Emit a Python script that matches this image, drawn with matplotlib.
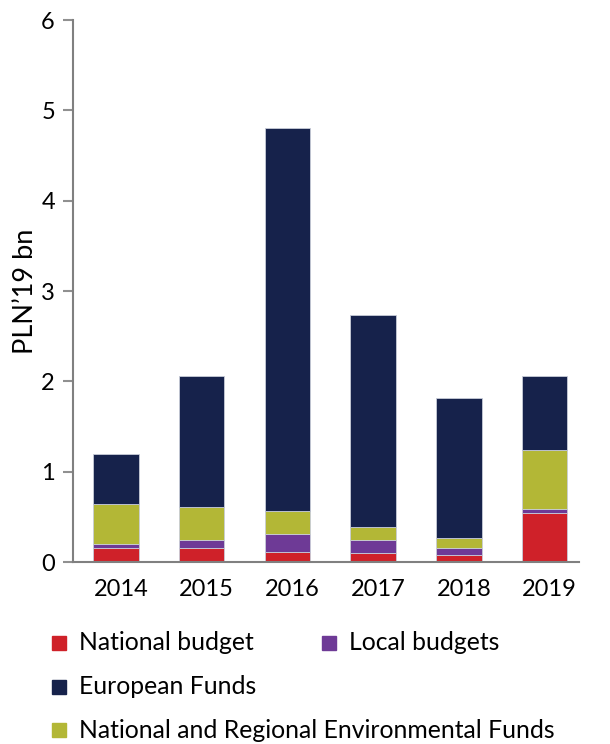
import matplotlib
matplotlib.use('Agg')
import matplotlib.pyplot as plt
import matplotlib.transforms as mtransforms
from matplotlib.patches import Rectangle
import numpy as np

plt.rcParams['font.family'] = ['Lato', 'DejaVu Sans']

# ============================================================
# Data (PLN'19 bn)
# ============================================================
years = ['2014', '2015', '2016', '2017', '2018', '2019']
national_budget = [0.155, 0.155, 0.115, 0.095, 0.073, 0.54]
local_budgets = [0.04, 0.085, 0.19, 0.145, 0.085, 0.045]
env_funds = [0.45, 0.365, 0.255, 0.15, 0.108, 0.66]
european_funds = [0.555, 1.46, 4.24, 2.34, 1.554, 0.82]

series = [
    ('National budget', national_budget, '#cf2129'),
    ('Local budgets', local_budgets, '#6e3a96'),
    ('National and Regional Environmental Funds', env_funds, '#b3b736'),
    ('European Funds', european_funds, '#16224b'),
]

fig = plt.figure(figsize=(6.1, 7.44), dpi=100)
ax = fig.add_axes([0.1197, 0.2446, 0.8293, 0.7284])

x = np.arange(len(years))
bottom = np.zeros(len(years))
for label, vals, color in series:
    ax.bar(x, vals, width=0.53, bottom=bottom, color=color,
           edgecolor='#c8ccd8', linewidth=0.6, label=label)
    bottom += np.array(vals)

ax.set_xlim(-0.5, 5.4)
ax.set_ylim(0, 6)
ax.set_xticks(x)
ax.set_xticklabels(years)
ax.set_yticks(range(7))
ax.set_ylabel("PLN\u201919 bn", fontsize=19.5, labelpad=2)

for side in ['top', 'right']:
    ax.spines[side].set_visible(False)
for side in ['left', 'bottom']:
    ax.spines[side].set_color('#808080')
    ax.spines[side].set_linewidth(1.5)
ax.tick_params(axis='y', length=7, width=1.5, color='#909090',
               labelsize=17, pad=6)
ax.tick_params(axis='x', length=0, labelsize=17, pad=12)

# the year labels sit a little to the right of the bars in the original
shift = mtransforms.ScaledTranslation(5 / 100, 0, fig.dpi_scale_trans)
for lbl in ax.get_xticklabels():
    lbl.set_transform(lbl.get_transform() + shift)

# --- legend, laid out by hand ---
legend_items = [
    ('National budget', '#cf2129', 52, 643),
    ('Local budgets', '#6e3a96', 322, 643),
    ('European Funds', '#16224b', 52, 687),
    ('National and Regional Environmental Funds', '#b3b736', 52, 730),
]
W, H = 610, 744
for text, color, px, py in legend_items:
    fig.patches.append(Rectangle((px / W, 1 - (py + 7) / H), 14 / W, 14 / H,
                                 transform=fig.transFigure, color=color))
    fig.text((px + 27) / W, 1 - py / H, text, fontsize=17.8,
             va='center', ha='left')

fig.savefig('out.png', dpi=100)
